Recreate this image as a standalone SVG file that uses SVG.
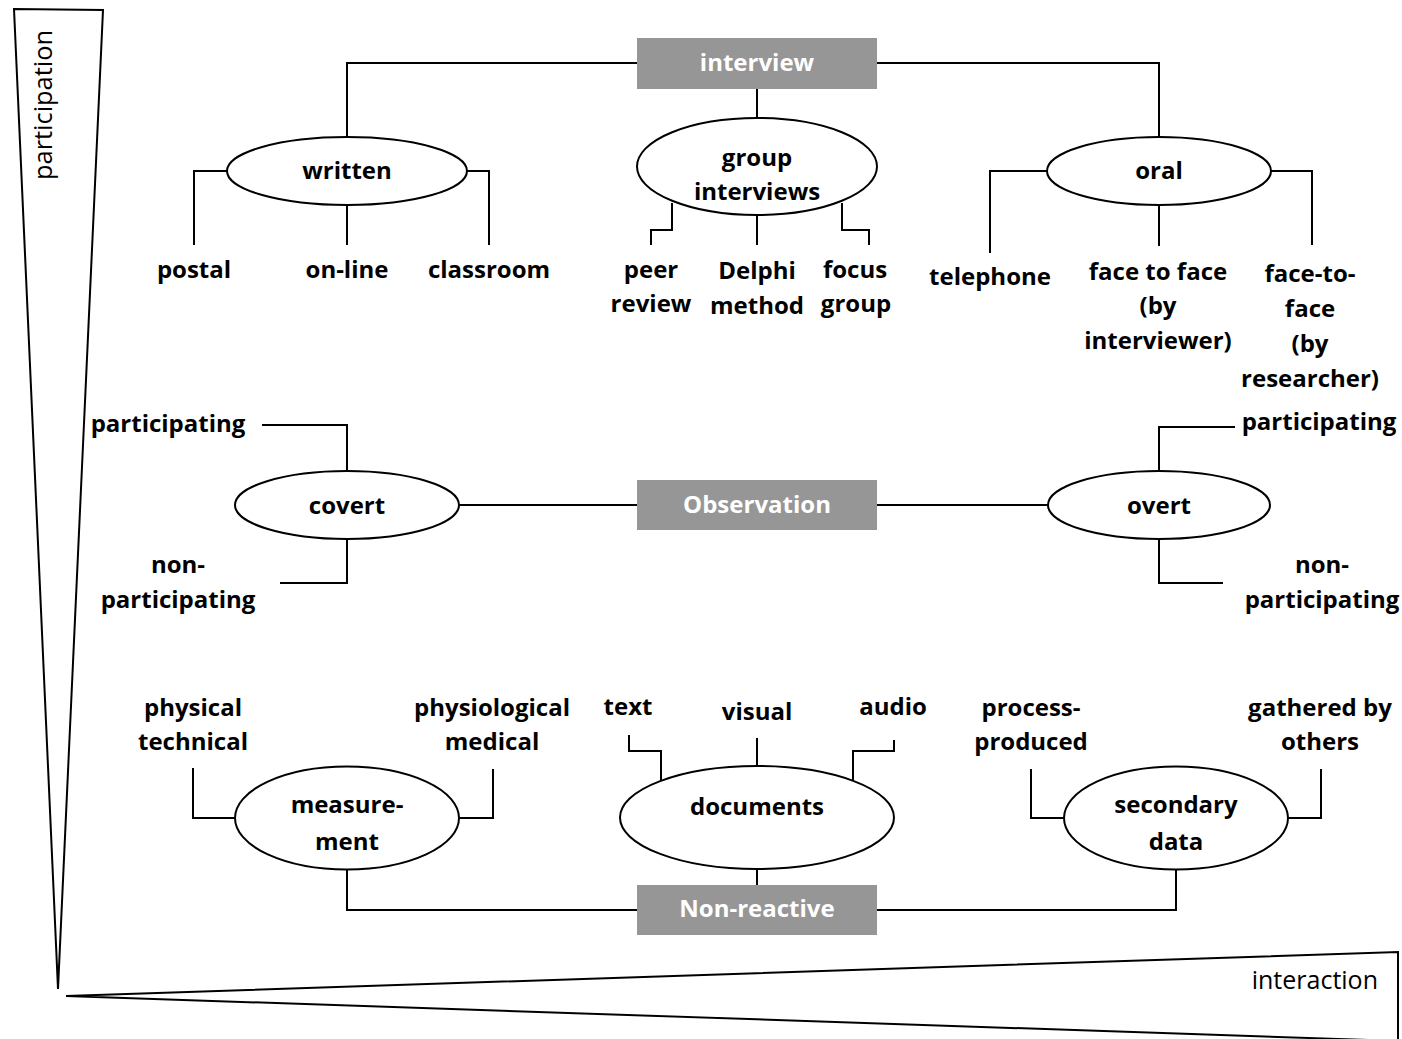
<svg xmlns="http://www.w3.org/2000/svg" width="1402" height="1039" viewBox="0 0 1402 1039">
<style>
.ln{fill:none;stroke:#000;stroke-width:2}
.el{fill:#fff;stroke:#000;stroke-width:2}
.box{fill:#969696}
.tri{fill:#fff;stroke:#000;stroke-width:2;stroke-linejoin:miter}
.t{font-family:"Open Sans","Liberation Sans",sans-serif;font-weight:700;font-size:24px;text-anchor:middle;fill:#000}
.w{fill:#fff}
.ax{font-family:"Open Sans","Liberation Sans",sans-serif;font-weight:400;font-size:25px;fill:#000}
</style>
<rect width="1402" height="1039" fill="#fff"/>
<g id="axes">
<polygon class="tri" points="14,9 103,10 58,989"/>
<polygon class="tri" points="66,996 1398,952 1398,1041"/>
<text class="ax" text-anchor="middle" transform="translate(52 105) rotate(-90)" textLength="150" lengthAdjust="spacingAndGlyphs" font-size="23">participation</text>
<text class="ax" x="1378" y="989" text-anchor="end">interaction</text>
</g>
<g id="connectors">
<polyline class="ln" points="637,63 347,63 347,137"/>
<polyline class="ln" points="877,63 1159,63 1159,137"/>
<line class="ln" x1="757" y1="89" x2="757" y2="118"/>
<polyline class="ln" points="227,171 194,171 194,245"/>
<line class="ln" x1="347" y1="205" x2="347" y2="245"/>
<polyline class="ln" points="467,171 489,171 489,245"/>
<polyline class="ln" points="672,203 672,230 651,230 651,245"/>
<line class="ln" x1="757" y1="215" x2="757" y2="245"/>
<polyline class="ln" points="842,203 842,230 869,230 869,245"/>
<polyline class="ln" points="1047,171 990,171 990,253"/>
<line class="ln" x1="1159" y1="205" x2="1159" y2="246"/>
<polyline class="ln" points="1270,171 1312,171 1312,245"/>
<line class="ln" x1="459" y1="505" x2="637" y2="505"/>
<line class="ln" x1="877" y1="505" x2="1048" y2="505"/>
<polyline class="ln" points="347,471 347,425 262,425"/>
<polyline class="ln" points="347,538 347,583 280,583"/>
<polyline class="ln" points="1159,471 1159,427 1235,427"/>
<polyline class="ln" points="1159,538 1159,583 1223,583"/>
<polyline class="ln" points="347,869 347,910 637,910"/>
<polyline class="ln" points="1176,869 1176,910 877,910"/>
<line class="ln" x1="757" y1="869" x2="757" y2="885"/>
<polyline class="ln" points="236,818 193,818 193,768"/>
<polyline class="ln" points="459,818 493,818 493,769"/>
<polyline class="ln" points="661,780 661,751 629,751 629,735"/>
<line class="ln" x1="757" y1="738" x2="757" y2="766"/>
<polyline class="ln" points="853,780 853,751 894,751 894,740"/>
<polyline class="ln" points="1064,818 1031,818 1031,769"/>
<polyline class="ln" points="1288,818 1321,818 1321,769"/>
</g>
<g id="interview">
<rect class="box" x="637" y="38" width="240" height="51"/>
<text class="t w" x="757" y="71">interview</text>
</g>
<g id="written">
<ellipse class="el" cx="347" cy="171" rx="120" ry="34"/>
<text class="t" x="347" y="179">written</text>
</g>
<g id="group-interviews">
<ellipse class="el" cx="757" cy="166.5" rx="120" ry="48.5"/>
<text class="t" x="757" y="166">group</text>
<text class="t" x="757" y="200">interviews</text>
</g>
<g id="oral">
<ellipse class="el" cx="1159" cy="171" rx="112" ry="34"/>
<text class="t" x="1159" y="179">oral</text>
</g>
<g id="postal"><text class="t" x="194" y="278">postal</text></g>
<g id="on-line"><text class="t" x="347" y="278">on-line</text></g>
<g id="classroom"><text class="t" x="489" y="278">classroom</text></g>
<g id="peer-review"><text class="t" x="651" y="278">peer</text><text class="t" x="651" y="312">review</text></g>
<g id="delphi"><text class="t" x="757" y="279">Delphi</text><text class="t" x="757" y="314">method</text></g>
<g id="focus-group"><text class="t" x="855" y="278">focus</text><text class="t" x="856" y="312">group</text></g>
<g id="telephone"><text class="t" x="990" y="285">telephone</text></g>
<g id="face-interviewer"><text class="t" x="1158" y="280">face to face</text><text class="t" x="1158" y="314">(by</text><text class="t" x="1158" y="349">interviewer)</text></g>
<g id="face-researcher"><text class="t" x="1310" y="282">face-to-</text><text class="t" x="1310" y="317">face</text><text class="t" x="1310" y="352">(by</text><text class="t" x="1310" y="387">researcher)</text></g>
<g id="observation">
<rect class="box" x="637" y="480" width="240" height="50"/>
<text class="t w" x="757" y="513">Observation</text>
</g>
<g id="covert">
<ellipse class="el" cx="347" cy="505" rx="112" ry="34"/>
<text class="t" x="347" y="514">covert</text>
</g>
<g id="overt">
<ellipse class="el" cx="1159" cy="505" rx="111" ry="34"/>
<text class="t" x="1159" y="514">overt</text>
</g>
<g id="covert-participating"><text class="t" x="168" y="432">participating</text></g>
<g id="covert-non"><text class="t" x="178" y="573">non-</text><text class="t" x="178" y="608">participating</text></g>
<g id="overt-participating"><text class="t" x="1319" y="430">participating</text></g>
<g id="overt-non"><text class="t" x="1322" y="573">non-</text><text class="t" x="1322" y="608">participating</text></g>
<g id="non-reactive">
<rect class="box" x="637" y="885" width="240" height="50"/>
<text class="t w" x="757" y="917">Non-reactive</text>
</g>
<g id="measurement">
<ellipse class="el" cx="347" cy="818" rx="112" ry="51.5"/>
<text class="t" x="347" y="813">measure-</text>
<text class="t" x="347" y="850">ment</text>
</g>
<g id="documents">
<ellipse class="el" cx="757" cy="817.5" rx="137" ry="51.5"/>
<text class="t" x="757" y="815">documents</text>
</g>
<g id="secondary-data">
<ellipse class="el" cx="1176" cy="818" rx="112" ry="51.5"/>
<text class="t" x="1176" y="813">secondary</text>
<text class="t" x="1176" y="850">data</text>
</g>
<g id="physical"><text class="t" x="193" y="716">physical</text><text class="t" x="193" y="750">technical</text></g>
<g id="physiological"><text class="t" x="492" y="716">physiological</text><text class="t" x="492" y="750">medical</text></g>
<g id="text"><text class="t" x="628" y="715">text</text></g>
<g id="visual"><text class="t" x="757" y="720">visual</text></g>
<g id="audio"><text class="t" x="893" y="715">audio</text></g>
<g id="process-produced"><text class="t" x="1031" y="716">process-</text><text class="t" x="1031" y="750">produced</text></g>
<g id="gathered"><text class="t" x="1320" y="716">gathered by</text><text class="t" x="1320" y="750">others</text></g>
</svg>
